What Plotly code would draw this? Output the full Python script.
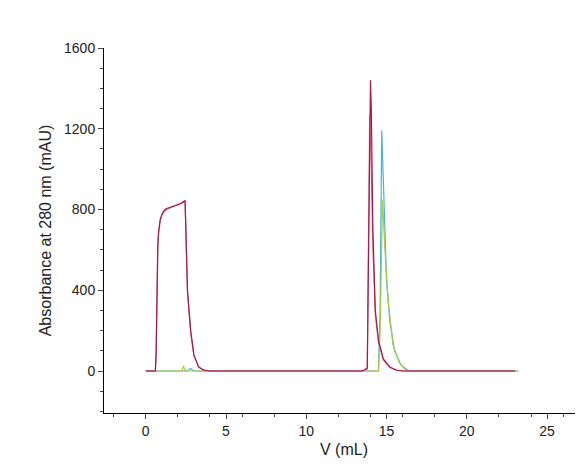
import plotly.graph_objects as go

# red (main) trace
red_x = [0, 0.6, 0.65, 0.7, 0.75, 0.8, 0.9, 1.0, 1.15, 1.3, 1.55, 1.8, 2.2, 2.35, 2.45, 2.5, 2.6, 2.8, 3.0, 3.3, 3.6, 4.0,
         13.5, 13.8, 13.9, 14.0, 14.05, 14.15, 14.3, 14.5, 14.8, 15.2, 15.6, 16.0, 23.0]
red_y = [0, 0, 100, 450, 620, 690, 750, 775, 795, 805, 812, 820, 830, 840, 845, 700, 400, 200, 80, 20, 5, 0,
         0, 15, 800, 1440, 1300, 700, 300, 150, 60, 20, 5, 0, 0]
pink_x = [0, 0.6, 0.65, 0.7, 0.75, 0.8, 0.9, 1.0, 1.15, 1.3, 1.55, 1.8, 2.2, 2.35, 2.45, 2.5, 2.6, 2.8, 3.0, 3.3, 3.6, 4.0,
          13.5, 13.8, 13.9, 13.95, 14.05, 14.15, 14.3, 14.5, 14.8, 15.2, 15.6, 16.0, 23.0]
pink_y = [0, 0, 90, 430, 610, 680, 745, 770, 790, 800, 808, 815, 828, 836, 842, 690, 390, 190, 75, 18, 4, 0,
          0, 10, 700, 1270, 1000, 600, 280, 140, 55, 18, 4, 0, 0]
cyan_x = [0, 2.6, 2.8, 3.0, 14.5, 14.6, 14.7, 14.8, 15.0, 15.2, 15.5, 15.9, 16.3, 16.6, 23.2]
cyan_y = [0, 0, 12, 0, 0, 300, 1190, 900, 450, 250, 100, 30, 5, 0, 0]
green_x = [0, 2.25, 2.35, 2.45, 14.5, 14.6, 14.75, 14.9, 15.1, 15.4, 15.8, 16.2, 16.5, 23.2]
green_y = [0, 0, 25, 0, 0, 200, 850, 600, 350, 130, 40, 5, 0, 0]

fig = go.Figure()
for xs, ys, c in [(cyan_x, cyan_y, "#3fb8d0"), (green_x, green_y, "#a8c94a"),
                  (pink_x, pink_y, "#d86c8c"), (red_x, red_y, "#a8174a")]:
    fig.add_trace(go.Scatter(x=xs, y=ys, mode="lines", line=dict(color=c, width=1.2),
                             showlegend=False))

axis = dict(showline=True, linecolor="black", linewidth=1, ticks="outside", ticklen=5,
            showgrid=False, zeroline=False, tickfont=dict(size=14, color="#222"),
            minor=dict(ticks="outside", ticklen=3))
fig.update_layout(
    width=583, height=475, plot_bgcolor="white", paper_bgcolor="white",
    margin=dict(l=96, r=7, t=40, b=70),
    font=dict(family="Arial, Liberation Sans", color="#222"),
    xaxis=dict(axis, range=[-2.6, 27.3], tickvals=[0, 5, 10, 15, 20, 25],
               title=dict(text="V (mL)", font=dict(size=16), standoff=6)),
    yaxis=dict(axis, range=[-208, 1600], tickvals=[0, 400, 800, 1200, 1600],
               title=dict(text="Absorbance at 280 nm (mAU)", font=dict(size=16), standoff=8)),
)
fig.write_html("out.html")
